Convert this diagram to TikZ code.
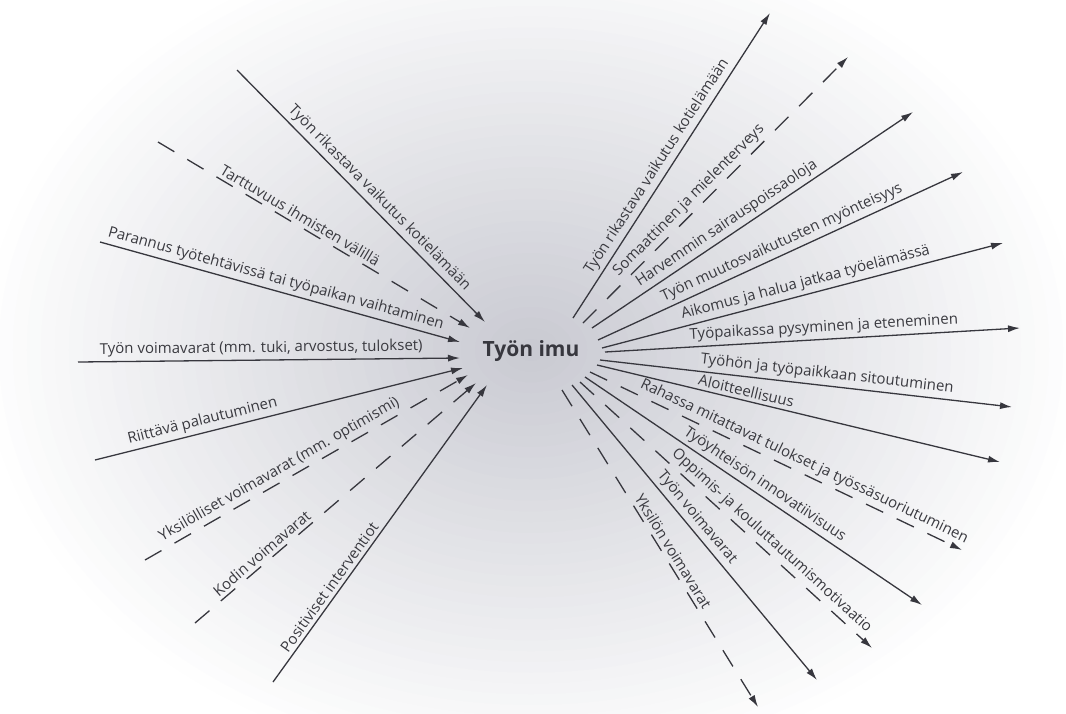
\documentclass[tikz,border=0pt]{standalone}
\usepackage{fontspec}
\setmainfont{Open Sans}
\usetikzlibrary{arrows.meta}

\definecolor{linecol}{RGB}{55,55,62}
\definecolor{txtcol}{RGB}{58,58,64}
\definecolor{glow}{RGB}{200,201,209}

\newcommand{\lblfont}{\fontsize{15}{18}\selectfont}
\newcommand{\titlefont}{\fontsize{21}{24}\selectfont\bfseries}

\tikzset{
  conn/.style={draw=linecol, line width=1.3pt, -{Latex[length=12pt,width=7pt]}},
  dashconn/.style={conn, dash pattern=on 19pt off 15pt},
  lbl/.style={sloped, above, inner sep=3.5pt, text=txtcol, font=\lblfont},
  centertext/.style={text=linecol, font=\titlefont, inner sep=2pt}
}

\begin{document}
\begin{tikzpicture}[x=1pt, y=-1pt]
  \useasboundingbox (0,0) rectangle (1066,713);
  \fill[white] (0,0) rectangle (1066,713);

  % soft grey glow behind the centre, built from nested ellipses
  \begin{scope}
    \clip (0,0) rectangle (1066,713);
    \foreach \i in {0,...,39} {
      \pgfmathsetmacro{\f}{1-\i/40}
      \pgfmathsetmacro{\p}{100*\i/40}
      \fill[glow!\p!white] (531,350) ellipse ({560*\f} and {430*\f});
    }
  \end{scope}

  \node[centertext] (imu) at (531,351) {Työn imu};

  % incoming factors (left)
  \coordinate (l1s) at (237,70);   \coordinate (l1e) at (485,322);
  \coordinate (l2s) at (158,142);  \coordinate (l2e) at (470,328);
  \coordinate (l3s) at (100,242);  \coordinate (l3e) at (460,342);
  \coordinate (l4s) at (78,362);   \coordinate (l4e) at (460,358);
  \coordinate (l5s) at (95,460);   \coordinate (l5e) at (463,368);
  \coordinate (l6s) at (145,560);  \coordinate (l6e) at (468,375);
  \coordinate (l7s) at (195,623);  \coordinate (l7e) at (476,383);
  \coordinate (l8s) at (273,682);  \coordinate (l8e) at (487,385);

  \draw[conn] (l1s) -- (l1e) node[lbl, pos=0.54] {Työn rikastava vaikutus kotielämään};
  \draw[dashconn] (l2s) -- (l2e) node[lbl, pos=0.44] {Tarttuvuus ihmisten välillä};
  \draw[conn] (l3s) -- (l3e) node[lbl, pos=0.48] {Parannus työtehtävissä tai työpaikan vaihtaminen};
  \draw[conn] (l4s) -- (l4e) node[lbl, pos=0.48] {Työn voimavarat (mm. tuki, arvostus, tulokset)};
  \draw[conn] (l5s) -- (l5e) node[lbl, pos=0.30] {Riittävä palautuminen};
  \draw[dashconn] (l6s) -- (l6e) node[lbl, pos=0.434] {Yksilölliset voimavarat (mm. optimismi)};
  \draw[dashconn] (l7s) -- (l7e) node[lbl, pos=0.26] {Kodin voimavarat};
  \draw[conn] (l8s) -- (l8e) node[lbl, pos=0.30] {Positiviset interventiot};

  % outgoing consequences (right)
  \coordinate (r1s) at (573,318);  \coordinate (r1e) at (770,13);
  \coordinate (r2s) at (583,323);  \coordinate (r2e) at (848,57);
  \coordinate (r3s) at (592,328);  \coordinate (r3e) at (913,112);
  \coordinate (r4s) at (598,340);  \coordinate (r4e) at (963,172);
  \coordinate (r5s) at (602,348);  \coordinate (r5e) at (1003,243);
  \coordinate (r6s) at (605,352);  \coordinate (r6e) at (1020,328);
  \coordinate (r7s) at (600,360);  \coordinate (r7e) at (1012,407);
  \coordinate (r8s) at (597,365);  \coordinate (r8e) at (1000,462);
  \coordinate (r9s) at (590,372);  \coordinate (r9e) at (962,550);
  \coordinate (r10s) at (585,377); \coordinate (r10e) at (922,605);
  \coordinate (r11s) at (580,382); \coordinate (r11e) at (872,648);
  \coordinate (r12s) at (572,385); \coordinate (r12e) at (817,680);
  \coordinate (r13s) at (562,390); \coordinate (r13e) at (758,707);

  \draw[conn] (r1s) -- (r1e) node[lbl, pos=0.476] {Työn rikastava vaikutus kotielämään};
  \draw[dashconn] (r2s) -- (r2e) node[lbl, pos=0.431] {Somaattinen ja mielenterveys};
  \draw[conn] (r3s) -- (r3e) node[lbl, pos=0.44] {Harvemmin sairauspoissaoloja};
  \draw[conn] (r4s) -- (r4e) node[lbl, pos=0.517] {Työn muutosvaikutusten myönteisyys};
  \draw[conn] (r5s) -- (r5e) node[lbl, pos=0.515] {Aikomus ja halua jatkaa työelämässä};
  \draw[conn] (r6s) -- (r6e) node[lbl, pos=0.529] {Työpaikassa pysyminen ja eteneminen};
  \draw[conn] (r7s) -- (r7e) node[lbl, pos=0.548] {Työhön ja työpaikkaan sitoutuminen};
  \draw[conn] (r8s) -- (r8e) node[lbl, pos=0.365] {Aloitteellisuus};
  \draw[dashconn] (r9s) -- (r9e) node[lbl, pos=0.5625] {Rahassa mitattavat tulokset ja työssäsuoriutuminen};
  \draw[conn] (r10s) -- (r10e) node[lbl, pos=0.514] {Työyhteisön innovatiivisuus};
  \draw[dashconn] (r11s) -- (r11e) node[lbl, pos=0.63] {Oppimis- ja kouluttautumismotivaatio};
  \draw[conn] (r12s) -- (r12e) node[lbl, pos=0.474] {Työn voimavarat};
  \draw[dashconn] (r13s) -- (r13e) node[lbl, pos=0.525] {Yksilön voimavarat};
\end{tikzpicture}
\end{document}
